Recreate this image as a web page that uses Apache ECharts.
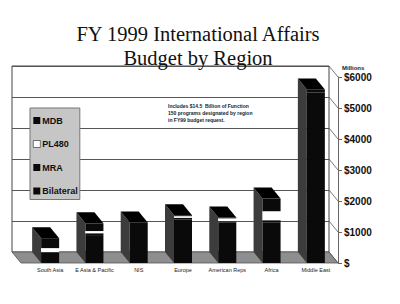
<!DOCTYPE html>
<html>
<head>
<meta charset="utf-8">
<script src="https://cdn.jsdelivr.net/npm/echarts@6/dist/echarts.min.js"></script>
<style>
  html, body { margin: 0; padding: 0; background: #fff; }
  #chart { width: 400px; height: 304px; }
</style>
</head>
<body>
<div id="chart"></div>
<script>
// regions, left to right
const regions = ["South Asia", "E Asia & Pacific", "NIS", "Europe", "American Reps", "Africa", "Middle East"];

// $ millions, stacked bottom to top: Bilateral, MRA, PL480, MDB
const bilateral = [290, 900, 1310, 1400, 1300, 1300, 5500];
const mra = [60, 60, 0, 60, 50, 80, 100];
const pl480 = [130, 70, 0, 50, 90, 290, 0];
const mdb = [320, 250, 0, 30, 30, 410, 0];

const yTicks = [0, 1000, 2000, 3000, 4000, 5000, 6000];

const totals = regions.map((r, i) => bilateral[i] + mra[i] + pl480[i] + mdb[i]);

const chart = echarts.init(document.getElementById("chart"), null, { renderer: "svg" });

const black = "#0a0a0a";
const barW = 18;
const dx = -9;
const dy = -11;

// top and left faces of the fake 3d boxes
function renderBox(params, api) {
  const top = api.coord([api.value(0), api.value(1)]);
  const base = api.coord([api.value(0), 0]);
  const x0 = top[0] - barW / 2;
  const x1 = top[0] + barW / 2;
  return {
    type: "group",
    children: [
      {
        type: "polygon",
        shape: { points: [[x0, base[1]], [x0, top[1]], [x0 + dx, top[1] + dy], [x0 + dx, base[1] + dy]] },
        style: { fill: "#3c3c3c" },
      },
      {
        type: "polygon",
        shape: { points: [[x0, top[1]], [x1, top[1]], [x1 + dx, top[1] + dy], [x0 + dx, top[1] + dy]] },
        style: { fill: "#000" },
      },
    ],
  };
}

// grey floor under the boxes
function renderFloor(params, api) {
  const cs = params.coordSys;
  const y = api.coord([0, 0])[1];
  return {
    type: "polygon",
    shape: {
      points: [[12, y + dy], [cs.x + cs.width + dx, y + dy], [cs.x + cs.width, y], [21, y]],
    },
    style: { fill: "#8e8e8e", stroke: "#555", lineWidth: 0.8 },
  };
}

// slanted ticks joining the back wall to the front axis
function renderWallTick(params, api) {
  const cs = params.coordSys;
  const y = api.coord([0, api.value(0)])[1];
  const xr = cs.x + cs.width;
  return {
    type: "line",
    shape: { x1: xr + dx, y1: y + dy, x2: xr, y2: y },
    style: { stroke: "#555", lineWidth: 0.8 },
  };
}

const option = {
  animation: false,
  title: [
    {
      text: "FY 1999 International Affairs\nBudget by Region",
      left: 193,
      top: 17,
      textAlign: "center",
      textStyle: {
        fontFamily: "Liberation Serif",
        fontWeight: "normal",
        fontSize: 20.5,
        lineHeight: 24,
        color: "#111",
      },
    },
    {
      text: "Includes $14.5  Billion of Function\n150 programs designated by region\nin FY99 budget request.",
      left: 163,
      top: 97,
      textStyle: {
        fontFamily: "Liberation Sans",
        fontWeight: "bold",
        fontSize: 5,
        lineHeight: 7,
        color: "#222",
      },
    },
  ],
  legend: {
    orient: "vertical",
    left: 30,
    top: 108,
    icon: "rect",
    itemWidth: 7,
    itemHeight: 7,
    itemGap: 14.5,
    padding: [8, 2, 4, 3],
    backgroundColor: "#c6c6c6",
    borderColor: "#777",
    borderWidth: 1,
    textStyle: {
      fontFamily: "Liberation Sans",
      fontWeight: "bold",
      fontSize: 9,
      color: "#111",
      padding: [0, 0, 0, -3],
    },
    data: [
      { name: "MDB" },
      { name: "PL480", itemStyle: { color: "#fff", borderColor: "#222", borderWidth: 0.6 } },
      { name: "MRA" },
      { name: "Bilateral" },
    ],
  },
  grid: [
    // back wall
    { left: 12, right: 71, top: 66, bottom: 52, show: true, borderColor: "#444", borderWidth: 1 },
    // front, where the boxes stand
    { left: 28, right: 62, top: 77, bottom: 41 },
  ],
  xAxis: [
    { gridIndex: 0, type: "category", data: regions, show: false },
    {
      gridIndex: 1,
      type: "category",
      data: regions,
      axisLine: { show: false },
      axisTick: { show: false },
      axisLabel: {
        interval: 0,
        margin: 4,
        fontFamily: "Liberation Sans",
        fontSize: 5.5,
        color: "#222",
      },
    },
  ],
  yAxis: [
    {
      gridIndex: 0,
      type: "value",
      min: 0,
      max: 6000,
      interval: 1000,
      axisLine: { show: false },
      axisTick: { show: false },
      axisLabel: { show: false },
      splitLine: { lineStyle: { color: "#555", width: 1 } },
    },
    {
      gridIndex: 1,
      type: "value",
      position: "right",
      min: 0,
      max: 6000,
      interval: 1000,
      name: "Millions",
      nameGap: 6,
      nameTextStyle: {
        fontFamily: "Liberation Sans",
        fontWeight: "bold",
        fontSize: 6,
        color: "#222",
        align: "left",
        padding: [0, 0, 0, 4],
      },
      axisLine: { show: true, lineStyle: { color: "#666" } },
      axisTick: { show: true, length: 4, lineStyle: { color: "#666" } },
      splitLine: { show: false },
      axisLabel: {
        margin: 6,
        fontFamily: "Liberation Sans",
        fontWeight: "bold",
        fontSize: 10,
        color: "#111",
        formatter: (v) => (v === 0 ? "$" : "$" + v),
      },
    },
  ],
  series: [
    {
      type: "custom",
      xAxisIndex: 1,
      yAxisIndex: 1,
      z: 1,
      silent: true,
      renderItem: renderFloor,
      data: [[0]],
    },
    {
      type: "custom",
      xAxisIndex: 1,
      yAxisIndex: 1,
      z: 1,
      silent: true,
      renderItem: renderWallTick,
      data: yTicks.map((v) => [v]),
    },
    {
      type: "custom",
      xAxisIndex: 1,
      yAxisIndex: 1,
      z: 4,
      silent: true,
      renderItem: renderBox,
      data: totals.map((t, i) => [i, t]),
    },
  ].concat([
    { name: "Bilateral", data: bilateral },
    { name: "MRA", data: mra },
    { name: "PL480", data: pl480, color: "#fff" },
    { name: "MDB", data: mdb },
  ].map((s) => ({
    type: "bar",
    stack: "total",
    xAxisIndex: 1,
    yAxisIndex: 1,
    barWidth: barW,
    z: 5,
    name: s.name,
    data: s.data,
    itemStyle: { color: s.color || black },
  }))),
};

chart.setOption(option);

window.addEventListener("resize", () => chart.resize());
</script>
</body>
</html>
